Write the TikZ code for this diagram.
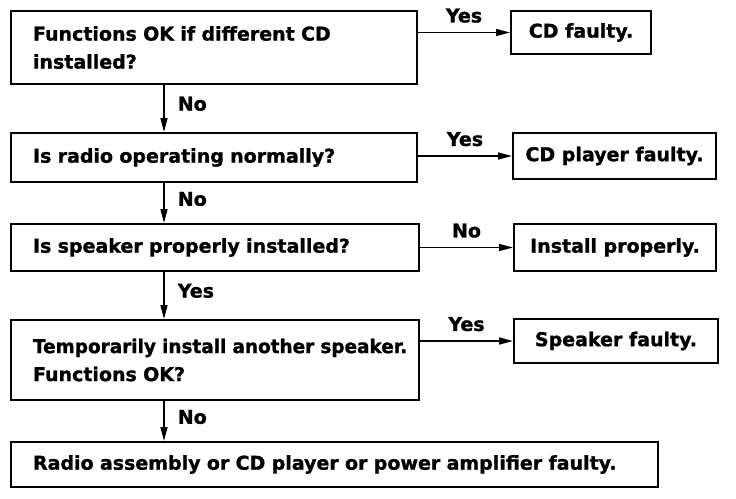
\documentclass[tikz,border=0pt]{standalone}
\usepackage{fontspec}
\setmainfont{DejaVu Sans}[BoldFeatures={FakeBold=1.2}]
\usetikzlibrary{arrows.meta}
\hfuzz=40pt
\tikzset{
  qbox/.style={draw, line width=2pt, inner xsep=22pt, inner ysep=0pt, align=left, anchor=north west, font=\fontsize{19}{28}\selectfont\bfseries},
  rbox/.style={draw, line width=2pt, inner sep=0pt, align=center, anchor=north west, font=\fontsize{19}{28}\selectfont\bfseries},
  arr/.style={line width=1.6pt, -{Triangle[length=14pt,width=7pt]}},
  lbl/.style={inner sep=0pt, font=\fontsize{19}{28}\selectfont\bfseries}
}

\begin{document}
\begin{tikzpicture}[x=1pt, y=-1pt]
\useasboundingbox (0,0) rectangle (736,498);
\coordinate (spine) at (164,0);
% questions
\node[qbox, text width=362pt, minimum height=73pt] (q1) at (10,10) {Functions OK if different CD\\installed?};
\node[qbox, text width=362pt, minimum height=49pt] (q2) at (10,132) {Is radio operating normally?};
\node[qbox, text width=364pt, minimum height=47pt] (q3) at (10,223) {Is speaker properly installed?};
\node[qbox, text width=364pt, minimum height=80pt] (q4) at (10,319) {\scalebox{0.97}[1]{Temporarily install another speaker.}\\Functions OK?};
\node[qbox, text width=603pt, minimum height=45pt] (q5) at (10,441) {Radio assembly or CD player or power amplifier faulty.};
% results
\node[rbox, minimum width=140pt, minimum height=43pt] (r1) at (510,10) {CD faulty.};
\node[rbox, minimum width=203pt, minimum height=46pt] (r2) at (512,132) {CD player faulty.};
\node[rbox, minimum width=202pt, minimum height=47pt] (r3) at (513,223) {Install properly.};
\node[rbox, minimum width=204pt, minimum height=44pt] (r4) at (513,318) {Speaker faulty.};
% flow
\draw[arr] (q1.south -| spine) -- (q2.north -| spine) node[lbl, pos=0.4, right=13pt] {No};
\draw[arr] (q2.south -| spine) -- (q3.north -| spine) node[lbl, pos=0.4, right=13pt] {No};
\draw[arr] (q3.south -| spine) -- (q4.north -| spine) node[lbl, pos=0.4, right=13pt] {Yes};
\draw[arr] (q4.south -| spine) -- (q5.north -| spine) node[lbl, pos=0.4, right=13pt] {No};
\draw[arr] (q1.east |- r1.west) -- (r1.west) node[lbl, midway, above=9pt] {Yes};
\draw[arr] (q2.east |- r2.west) -- (r2.west) node[lbl, midway, above=9pt] {Yes};
\draw[arr] (q3.east |- r3.west) -- (r3.west) node[lbl, midway, above=9pt] {No};
\draw[arr] (q4.east |- r4.west) -- (r4.west) node[lbl, midway, above=9pt] {Yes};
\end{tikzpicture}
\end{document}
